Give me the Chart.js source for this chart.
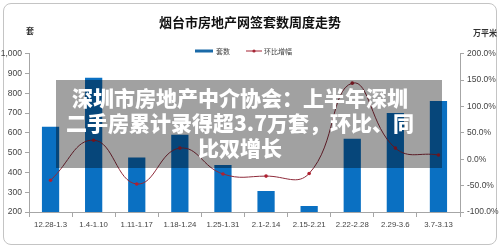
<!DOCTYPE html>
<html>
<head>
<meta charset="utf-8">
<script src="https://cdn.jsdelivr.net/npm/chart.js@4"></script>
<style>
    body {margin: 0; background: #fff;}
    #wrap {position: relative; width: 500px; height: 250px; overflow: hidden;}
    #frame {position: absolute; left: 3px; top: 3px; width: 492px; height: 240px; border: 1px solid #c4c4c4; border-radius: 8px;}
    #chart {position: absolute; left: 0; top: 0;}
    #news {position: absolute; left: 56px; top: 80px; width: 386px; height: 88px; background: rgba(0,0,0,0.37);
        color: #fff; font-family: "Noto Sans CJK SC", sans-serif; font-weight: 900; font-size: 21px;
        line-height: 25px; text-align: center; padding: 5px 18px 0 0; box-sizing: border-box;}
</style>
</head>
<body>
<div id="wrap">
    <div id="frame"></div>
    <canvas id="chart" width="500" height="250"></canvas>
    <div id="news">深圳市房地产中介协会：上半年深圳<br>二手房累计录得超3.7万套，环比、同<br>比双增长</div>
</div>
<script>
const weeks = ["12.28-1.3", "1.4-1.10", "1.11-1.17", "1.18-1.24", "1.25-1.31", "2.1-2.14", "2.15-2.21", "2.22-2.28", "2.29-3.6", "3.7-3.13"]
const units = [630, 878, 475, 590, 438, 306, 230, 570, 700, 760]
const change = [-40, 36, -47, 21, -28, -32, -27, 144, 21, 8]
const unitTicks = [200, 300, 400, 500, 600, 700, 800, 900, 1000]
const changeTicks = [-100, -50, 0, 50, 100, 150, 200]

// unit labels above each y axis + a small legend sitting on top of the plot
const extras = {
    id: "extras",
    afterDraw(chart) {
        const ctx = chart.ctx
        const [line, bar] = chart.data.datasets
        ctx.save()
        ctx.font = "bold 8px 'Noto Sans CJK SC'"
        ctx.fillStyle = "#333"
        ctx.textAlign = "center"
        ctx.textBaseline = "middle"
        ctx.fillText("套", 30, 31)
        ctx.fillText("万平米", 485, 33)

        const y = 51
        ctx.font = "7px 'Noto Sans CJK SC'"
        ctx.textAlign = "left"
        ctx.fillStyle = "#1a6aa8"
        ctx.fillRect(195, y - 1.5, 18, 3)
        ctx.fillStyle = "#444"
        ctx.fillText(bar.label, 216, y)

        ctx.fillStyle = "#a52535"
        ctx.fillRect(246, y - 0.5, 16, 1)
        ctx.beginPath()
        ctx.arc(254, y, 1.6, 0, Math.PI * 2)
        ctx.fill()
        ctx.fillStyle = "#444"
        ctx.fillText(line.label, 264, y)
        ctx.restore()
    }
}

const tickFont = {family: "'Liberation Sans', 'Noto Sans'", size: 8.5}
const axisColor = "#a6a6a6"

new Chart("chart", {
    data: {
        labels: weeks,
        datasets: [{
                type: "line",
                label: "环比增幅",
                data: change,
                yAxisID: "y2",
                borderColor: "#8e2a3a",
                borderWidth: 1,
                backgroundColor: "#b02030",
                pointRadius: 1.8,
                pointBorderWidth: 0,
                tension: 0.45,
                order: 0
            }, {
                type: "bar",
                label: "套数",
                data: units,
                yAxisID: "y",
                backgroundColor: "#0a70c2",
                barPercentage: 0.4,
                categoryPercentage: 1,
                order: 1
            }]
    },
    options: {
        responsive: false,
        animation: false,
        layout: {padding: {left: 0, right: 0, top: 0, bottom: 10}},
        plugins: {
            title: {
                display: true,
                text: "烟台市房地产网签套数周度走势",
                font: {family: "'Noto Sans CJK SC'", size: 13, weight: "bold"},
                color: "#111",
                padding: {top: 14, bottom: 24}
            },
            legend: {display: false},
            tooltip: {enabled: false}
        },
        scales: {
            x: {
                grid: {display: true, drawOnChartArea: false, tickLength: 5, color: axisColor, offset: true},
                border: {color: axisColor},
                ticks: {font: {...tickFont, size: 7.8}, color: "#444", maxRotation: 0, autoSkip: false, padding: 3},
                afterFit: s => { s.height = 28 }
            },
            y: {
                position: "left",
                min: 200,
                max: 1000,
                afterBuildTicks: s => { s.ticks = unitTicks.map(v => ({value: v})) },
                grid: {display: true, drawOnChartArea: false, tickLength: 4, color: axisColor},
                border: {color: axisColor},
                ticks: {font: tickFont, color: "#444", padding: 3},
                afterFit: s => { s.width = 29 }
            },
            y2: {
                position: "right",
                min: -100,
                max: 200,
                afterBuildTicks: s => { s.ticks = changeTicks.map(v => ({value: v})) },
                grid: {display: true, drawOnChartArea: false, tickLength: 4, color: axisColor},
                border: {color: axisColor},
                ticks: {font: tickFont, color: "#444", padding: 3, callback: v => v.toFixed(1) + "%"},
                afterFit: s => { s.width = 40 }
            }
        }
    },
    plugins: [extras]
})
</script>
</body>
</html>
